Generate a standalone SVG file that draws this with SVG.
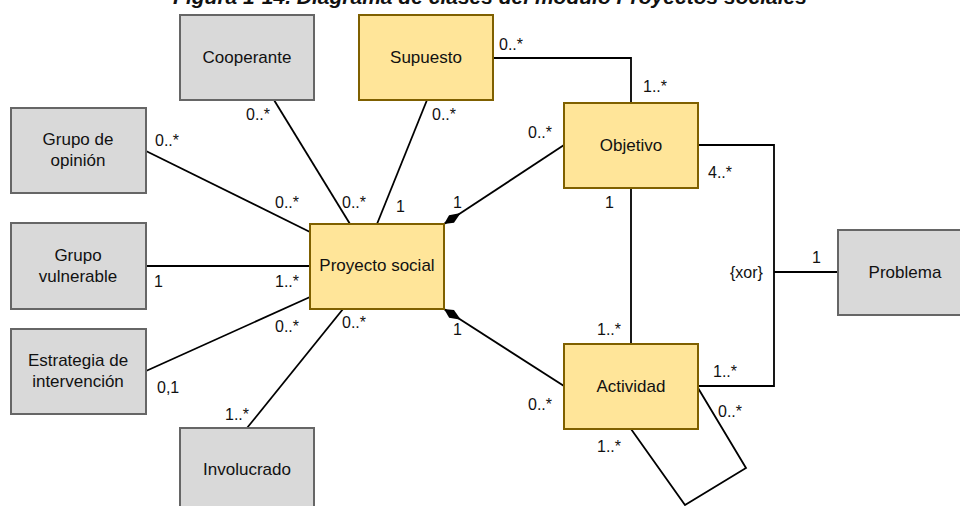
<svg xmlns="http://www.w3.org/2000/svg" width="960" height="506" viewBox="0 0 960 506">
<style>
.g{fill:#D9D9D9;stroke:#666666;stroke-width:2}
.y{fill:#FFE599;stroke:#7F6000;stroke-width:2}
.t{font-family:"Liberation Sans",Arial,sans-serif;font-size:17px;fill:#111;text-anchor:middle}
.m{font-family:"Liberation Sans",Arial,sans-serif;font-size:16px;fill:#111}
.c{fill:none;stroke:#000;stroke-width:1.8}
.title{font-family:"Liberation Sans",Arial,sans-serif;font-size:21px;font-weight:bold;font-style:italic;fill:#111;text-anchor:middle}
</style>
<defs>
<marker id="dia" markerUnits="userSpaceOnUse" markerWidth="24" markerHeight="12" viewBox="0 -6 24 12" refX="0" refY="0" orient="auto">
<path d="M0,0 L9,-4.5 L20,0 L9,4.5 z" fill="#000"/>
</marker>
</defs>
<rect width="960" height="506" fill="#fff"/>
<text class="title" x="490" y="4">Figura 1-14. Diagrama de clases del módulo Proyectos sociales</text>

<g id="connectors">
<line class="c" x1="146" y1="151" x2="310" y2="232"/>
<line class="c" x1="274" y1="100" x2="350" y2="224"/>
<line class="c" x1="427" y1="100" x2="377" y2="224"/>
<line class="c" x1="146" y1="266" x2="310" y2="266"/>
<line class="c" x1="146" y1="371" x2="310" y2="297"/>
<line class="c" x1="247" y1="428" x2="343" y2="309"/>
<path class="c" d="M444,224 L564,145" marker-start="url(#dia)"/>
<path class="c" d="M444,309 L564,386" marker-start="url(#dia)"/>
<path class="c" d="M493,58 L631,58 L631,103"/>
<line class="c" x1="631" y1="188" x2="631" y2="344"/>
<path class="c" d="M698,145 L774,145 L774,386 L698,386"/>
<line class="c" x1="774" y1="272" x2="838" y2="272"/>
<path class="c" d="M698,388 L746,468 L685,505 L631,429"/>
</g>

<g id="labels">
<text class="m" x="246" y="120">0..*</text>
<text class="m" x="432" y="120">0..*</text>
<text class="m" x="155" y="146">0..*</text>
<text class="m" x="275" y="208">0..*</text>
<text class="m" x="342" y="208">0..*</text>
<text class="m" x="396" y="212">1</text>
<text class="m" x="453" y="208">1</text>
<text class="m" x="154" y="287">1</text>
<text class="m" x="275" y="287">1..*</text>
<text class="m" x="275" y="332">0..*</text>
<text class="m" x="157" y="393">0,1</text>
<text class="m" x="342" y="328">0..*</text>
<text class="m" x="453" y="335">1</text>
<text class="m" x="225" y="420">1..*</text>
<text class="m" x="499" y="50">0..*</text>
<text class="m" x="643" y="92">1..*</text>
<text class="m" x="528" y="138">0..*</text>
<text class="m" x="708" y="178">4..*</text>
<text class="m" x="605" y="208">1</text>
<text class="m" x="730" y="278">{xor}</text>
<text class="m" x="812" y="263">1</text>
<text class="m" x="597" y="335">1..*</text>
<text class="m" x="713" y="377">1..*</text>
<text class="m" x="528" y="410">0..*</text>
<text class="m" x="718" y="417">0..*</text>
<text class="m" x="597" y="452">1..*</text>
</g>

<g id="cooperante"><rect class="g" x="180" y="15" width="134" height="85"/><text class="t" x="247" y="63">Cooperante</text></g>
<g id="supuesto"><rect class="y" x="359" y="15" width="134" height="85"/><text class="t" x="426" y="63">Supuesto</text></g>
<g id="grupo-opinion"><rect class="g" x="11" y="108" width="135" height="85"/><text class="t" x="78" y="145">Grupo de</text><text class="t" x="78" y="166">opinión</text></g>
<g id="grupo-vulnerable"><rect class="g" x="11" y="223" width="135" height="86"/><text class="t" x="78" y="261">Grupo</text><text class="t" x="78" y="282">vulnerable</text></g>
<g id="estrategia"><rect class="g" x="11" y="329" width="135" height="85"/><text class="t" x="78" y="366">Estrategia de</text><text class="t" x="78" y="387">intervención</text></g>
<g id="involucrado"><rect class="g" x="180" y="428" width="134" height="90"/><text class="t" x="247" y="475">Involucrado</text></g>
<g id="proyecto-social"><rect class="y" x="310" y="224" width="134" height="85"/><text class="t" x="377" y="271">Proyecto social</text></g>
<g id="objetivo"><rect class="y" x="564" y="103" width="134" height="85"/><text class="t" x="631" y="151">Objetivo</text></g>
<g id="actividad"><rect class="y" x="564" y="344" width="134" height="85"/><text class="t" x="631" y="392">Actividad</text></g>
<g id="problema"><rect class="g" x="838" y="230" width="134" height="85"/><text class="t" x="905" y="278">Problema</text></g>
</svg>
